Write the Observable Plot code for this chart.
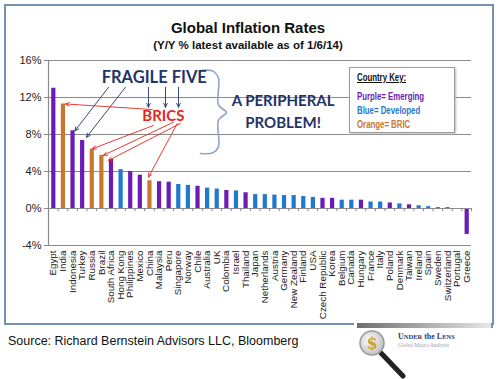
<!DOCTYPE html>
<html>
<head>
<meta charset="utf-8">
<script src="https://cdn.jsdelivr.net/npm/d3@7"></script>
<script src="https://cdn.jsdelivr.net/npm/@observablehq/plot@0.6"></script>
<style>
  body { margin: 0; background: #fff; }
  #wrap { position: relative; width: 500px; height: 379px; overflow: hidden; font-family: "Liberation Sans", Arial, sans-serif; }
  .abs { position: absolute; }
  #legend div { white-space: nowrap; transform: scaleX(0.68); transform-origin: left center; }
</style>
</head>
<body>
<div id="wrap">
  <div class="abs" style="left:4px;top:4px;width:486px;height:319px;border:2px solid #7590b0;border-bottom:none;"></div>
  <div class="abs" style="left:4px;top:323px;width:350px;height:2px;background:#7590b0;"></div>
  <div class="abs" style="left:0;top:19px;width:496px;text-align:center;font-weight:bold;font-size:15px;color:#111;">Global Inflation Rates</div>
  <div class="abs" style="left:0;top:39px;width:496px;text-align:center;font-weight:bold;font-size:11.5px;color:#111;">(Y/Y % latest available as of 1/6/14)</div>
  <div id="chart" class="abs" style="left:0;top:0;"></div>
  <div id="legend" class="abs" style="left:349px;top:67px;width:106px;height:66px;background:#fff;border:1px solid #9a9a9a;box-shadow:1px 1px 2px #bbb;font-weight:bold;font-size:11.5px;line-height:14px;padding:2px 0 0 7px;box-sizing:border-box;"></div>
  <div class="abs" style="left:8px;top:334px;font-size:12.5px;color:#111;">Source: Richard Bernstein Advisors LLC, Bloomberg</div>
  <svg class="abs" style="left:350px;top:318px;" width="150" height="61">
    <defs>
      <linearGradient id="lg" x1="0" x2="1" y1="0" y2="0">
        <stop offset="0" stop-color="#6e6e6e"/><stop offset="1" stop-color="#e8e8e8"/>
      </linearGradient>
      <radialGradient id="rg" cx="0.4" cy="0.4" r="0.7">
        <stop offset="0" stop-color="#ffffff"/><stop offset="1" stop-color="#b8b8b8"/>
      </radialGradient>
    </defs>
    <rect x="7" y="5" width="135" height="5" fill="url(#lg)"/>
    <rect x="141" y="5" width="2" height="5" fill="#7590b0"/>
    <line x1="30" y1="34" x2="53" y2="58" stroke="#222" stroke-width="5" stroke-linecap="round"/>
    <circle cx="22" cy="25" r="12" fill="url(#rg)" stroke="#999" stroke-width="1.5"/>
    <text x="22" y="31" text-anchor="middle" font-size="16" font-weight="bold" fill="#c9a227" font-family="DejaVu Serif, serif">$</text>
    <text x="48" y="21" font-size="8" font-weight="bold" fill="#2c3b6e" font-family="Liberation Serif, serif">U<tspan font-size="6.5">NDER</tspan> the L<tspan font-size="6.5">ENS</tspan></text>
    <text x="48" y="29" font-size="5.5" fill="#a0a0a0" font-family="Liberation Serif, serif">Global Macro Analysis</text>
  </svg>
</div>
<script>
// ---- data ----
const countries = ["Egypt","India","Indonesia","Turkey","Russia","Brazil","South Africa","Hong Kong","Philippines","Mexico","China","Malaysia","Peru","Singapore","Norway","Chile","Australia","UK","Colombia","Israel","Thailand","Japan","Netherlands","Austria","Germany","New Zealand","Finland","USA","Czech Republic","Korea","Belgium","Canada","Hungary","France","Italy","Poland","Denmark","Taiwan","Ireland","Spain","Sweden","Switzerland","Portugal","Greece"];
const values = [13.0,11.3,8.4,7.35,6.4,5.75,5.3,4.2,4.0,3.6,3.0,2.9,2.85,2.6,2.5,2.4,2.2,2.1,1.95,1.9,1.7,1.5,1.5,1.45,1.4,1.4,1.3,1.2,1.1,1.1,0.9,0.9,0.9,0.7,0.7,0.6,0.5,0.4,0.3,0.2,0.1,0.1,-0.1,-2.8];
const groups = ["E","B","E","E","B","B","E","D","E","E","B","E","E","D","D","E","D","D","E","D","E","D","D","D","D","D","D","D","E","E","D","D","E","D","D","E","D","E","D","D","D","D","D","E"];
const yTicks = [-4, 0, 4, 8, 12, 16];
const groupNames = ["E","D","B"];
const groupLabels = ["Purple= Emerging","Blue= Developed","Orange= BRIC"];
const groupColors = ["#6a1bb8","#1f78d1","#c8772e"];

// annotations (data units: x = country index, y = %)
const notes = [
  {x: 10.5, y: 14.15, text: "FRAGILE FIVE", fill: "#1f3468", size: 16.5},
  {x: 11.45, y: 9.95, text: "BRICS", fill: "#e3261f", size: 15},
  {x: 23.9, y: 11.55, text: "A PERIPHERAL", fill: "#1f3468", size: 15},
  {x: 23.9, y: 9.2, text: "PROBLEM!", fill: "#1f3468", size: 15}
];
const fragileArrows = [
  {x1: 5.74, y1: 13.1, to: "Indonesia", dx: 0.25, dy: 0.0},
  {x1: 7.5, y1: 13.1, to: "Turkey", dx: 0.45, dy: 0.35},
  {x1: 9.9, y1: 13.1, x2: 9.9, y2: 10.95},
  {x1: 11.67, y1: 13.1, x2: 11.67, y2: 10.95},
  {x1: 13.02, y1: 13.1, x2: 13.02, y2: 10.95}
];
const bricArrows = [
  {x1: 10.3, y1: 10.7, to: "India", dx: 0.27, dy: 0.0},
  {x1: 10.4, y1: 8.97, to: "Russia", dx: 0.05, dy: 0.05},
  {x1: 12.5, y1: 9.33, to: "Brazil", dx: 0.22, dy: 0.0},
  {x1: 13.2, y1: 9.19, to: "South Africa", dx: -0.26, dy: -0.1},
  {x1: 12.9, y1: 9.19, to: "China", dx: -0.1, dy: 0.4}
];
const brace = [
  [15.31,14.92],[16.6,14.85],[17.18,14.1],[17.18,11.2],[18.0,10.38],
  [17.18,9.56],[17.18,6.66],[16.6,6.02],[15.31,5.95]
];

// ---- build ----
const data = countries.map((c, i) => ({country: c, i, value: values[i], group: groups[i]}));
const colorOf = g => groupColors[groupNames.indexOf(g)];
const resolve = a => {
  if (a.to === undefined) return a;
  const k = countries.indexOf(a.to);
  return {...a, x2: k + a.dx, y2: values[k] + a.dy};
};
const boundaries = d3.range(-0.5, countries.length, 1);

const chart = Plot.plot({
  width: 500,
  height: 330,
  marginTop: 60,
  marginBottom: 85,
  marginLeft: 48,
  marginRight: 29,
  x: {domain: [-0.5, countries.length - 0.5]},
  y: {domain: [-4, 16]},
  style: {background: "transparent", fontFamily: "'Liberation Sans', Arial, sans-serif", color: "#222"},
  marks: [
    Plot.ruleY(yTicks.filter(d => d !== 0), {stroke: "#8a8a8a", strokeWidth: 1.2}),
    Plot.ruleX([-0.5], {y1: -4, y2: 16, stroke: "#8a8a8a", strokeWidth: 1.2}),
    Plot.axisY({ticks: yTicks, tickFormat: d => d + "%", tickSize: 4, tickPadding: 3, fontSize: 11, stroke: "#8a8a8a"}),
    Plot.axisX({ticks: data.map(d => d.i), tickFormat: i => countries[i], tickRotate: -90, tickSize: 0, tickPadding: 5, fontSize: 9.8}),
    Plot.ruleX(data, {x: "i", y1: 0, y2: "value", stroke: d => colorOf(d.group), strokeWidth: 4.2}),
    Plot.ruleY([0], {stroke: "#8a8a8a", strokeWidth: 1.2}),
    Plot.ruleX(boundaries, {y1: 0, y2: -0.35, stroke: "#8a8a8a"}),
    Plot.line(brace, {x: d => d[0], y: d => d[1], stroke: "#8ea6c6", strokeWidth: 1.6, curve: "catmull-rom"}),
    Plot.arrow(fragileArrows.map(resolve), {x1: "x1", y1: "y1", x2: "x2", y2: "y2", stroke: "#1f3468", strokeWidth: 0.9, headLength: 7, headAngle: 50}),
    Plot.arrow(bricArrows.map(resolve), {x1: "x1", y1: "y1", x2: "x2", y2: "y2", stroke: "#e3261f", strokeWidth: 0.9, headLength: 7, headAngle: 50}),
    ...notes.map(n => Plot.text([n], {x: "x", y: "y", text: "text", fill: "fill", fontSize: n.size, fontWeight: "bold", fontFamily: "Lato, 'Open Sans', sans-serif"}))
  ]
});
document.getElementById("chart").appendChild(chart);

// legend
const legend = document.getElementById("legend");
const head = document.createElement("div");
head.textContent = "Country Key:";
head.style.cssText = "color:#111;text-decoration:underline;margin-bottom:5px;";
legend.appendChild(head);
groupLabels.forEach((t, k) => {
  const el = document.createElement("div");
  el.textContent = t;
  el.style.color = groupColors[k];
  legend.appendChild(el);
});
</script>
</body>
</html>
